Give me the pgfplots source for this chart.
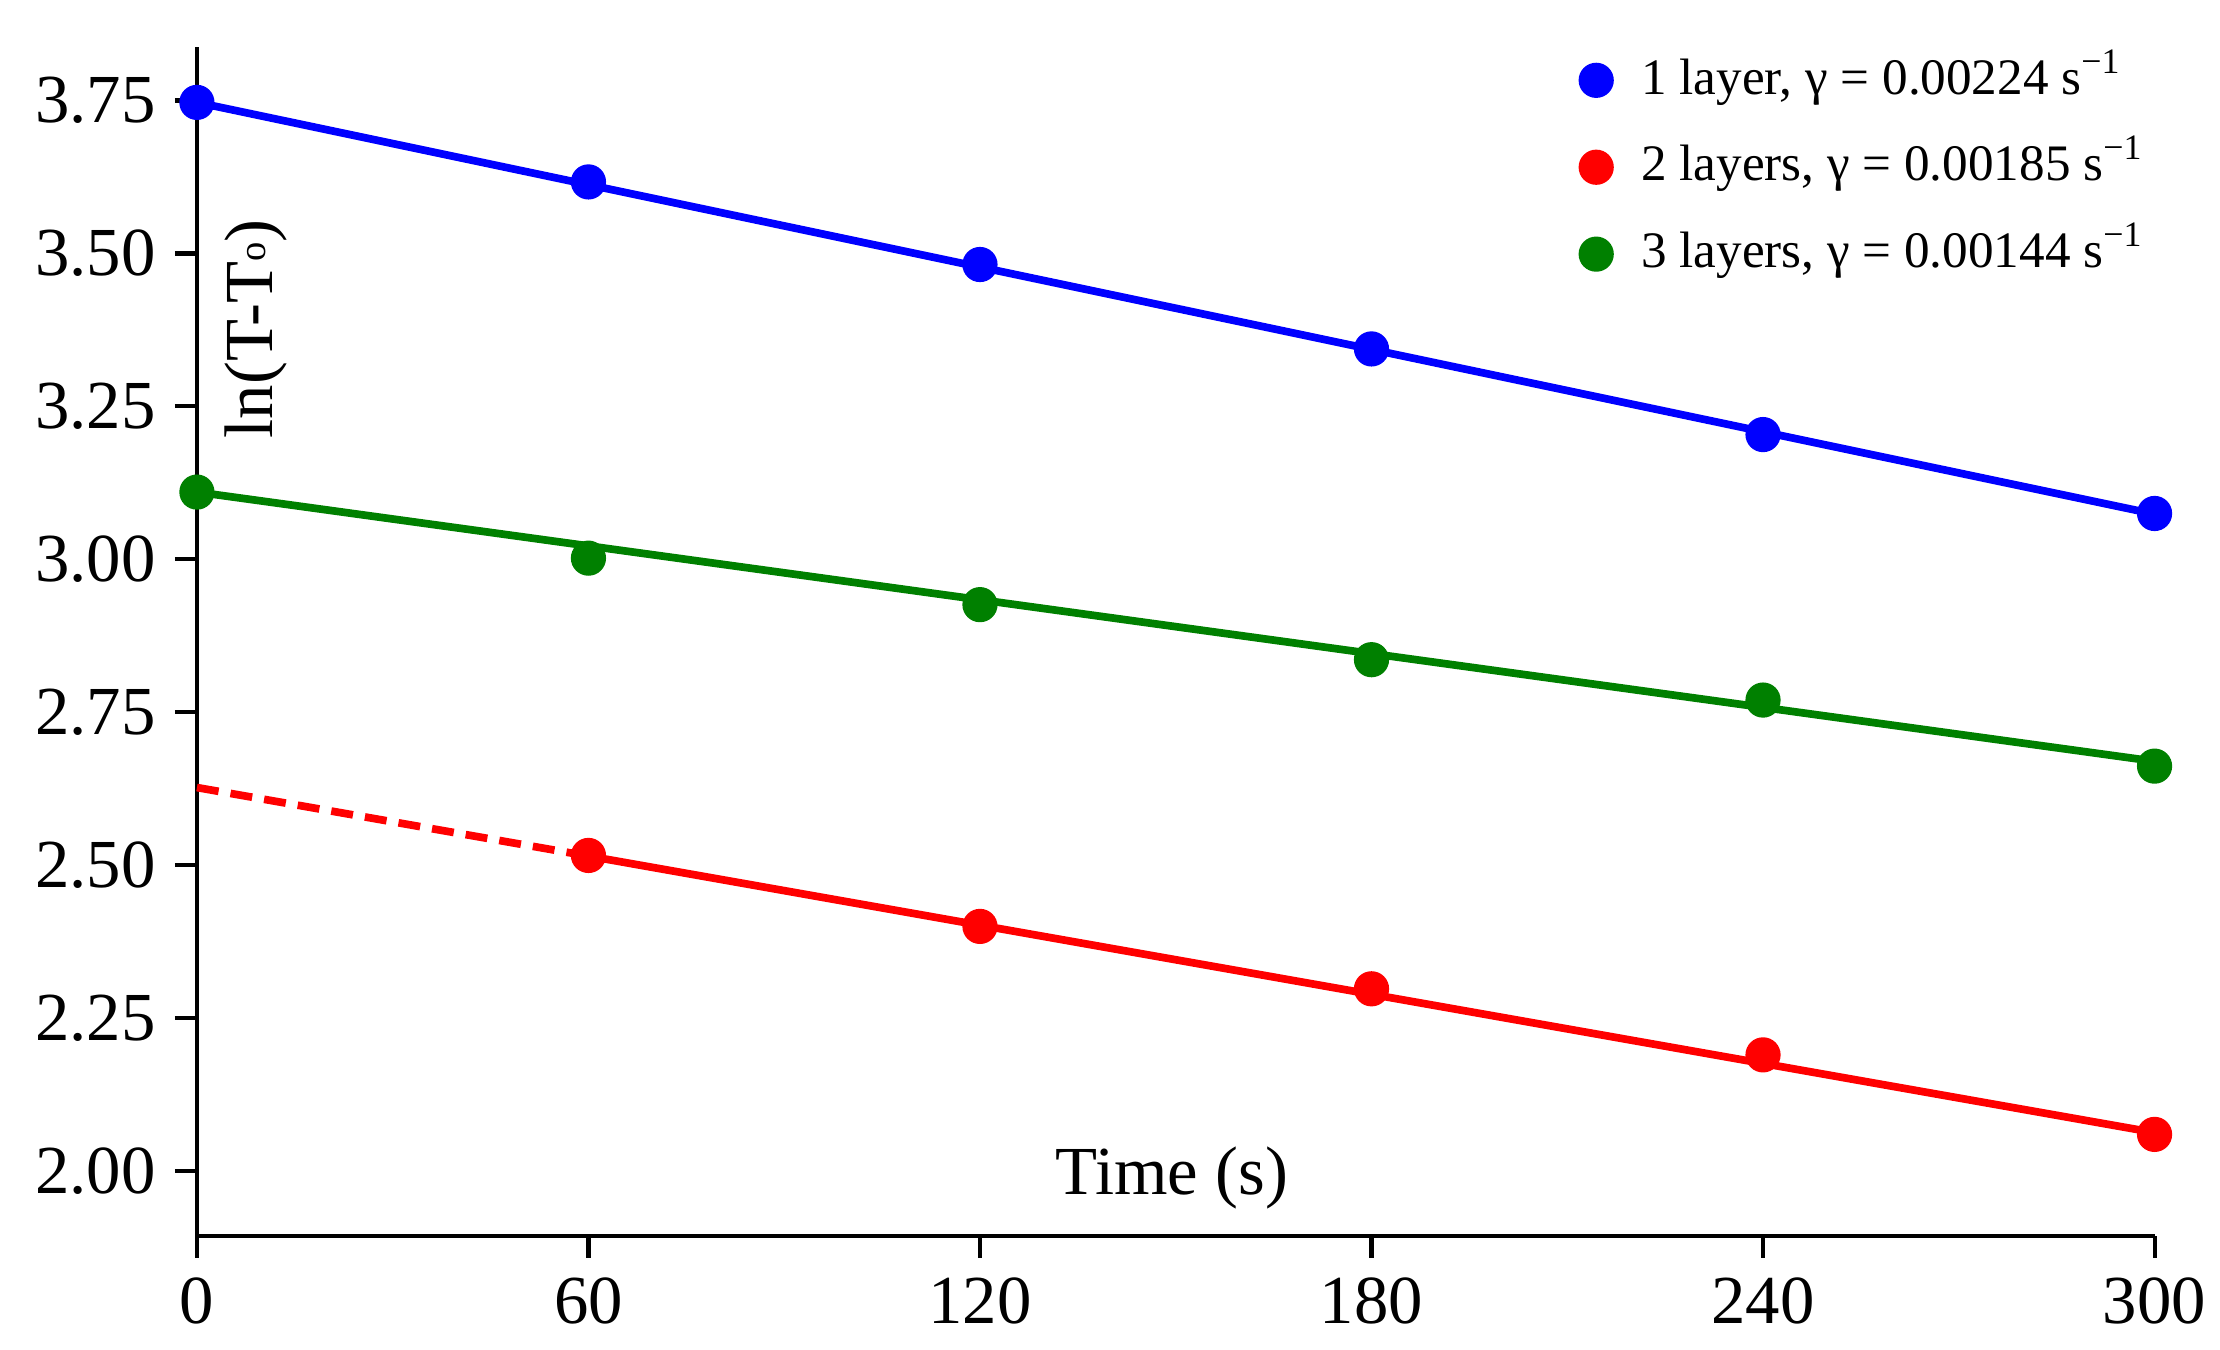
\documentclass[border=0pt]{standalone}
\usepackage{fontspec}
\setmainfont{Liberation Serif}
\usepackage{pgfplots}
\pgfplotsset{compat=1.18}
\definecolor{cblue}{RGB}{0,0,255}
\definecolor{cred}{RGB}{255,0,0}
\definecolor{cgreen}{RGB}{0,128,0}
\begin{document}
\begin{tikzpicture}
\useasboundingbox (-35.8pt,-20.7pt) rectangle (367.8pt,224.7pt);
\begin{axis}[
  at={(0,0)}, anchor=south west,
  scale only axis, width=355.9pt, height=216.2pt,
  xmin=0, xmax=300, ymin=1.894, ymax=3.838,
  axis x line*=bottom, axis y line*=left,
  axis line style={line width=0.75pt},
  tick align=outside, major tick length=4pt,
  tick style={line width=0.75pt, black},
  xtick={0,60,120,180,240,300},
  ytick={2,2.25,2.5,2.75,3,3.25,3.5,3.75},
  yticklabel style={/pgf/number format/.cd, fixed, fixed zerofill, precision=2},
  /pgf/number format/assume math mode=true,
  ticklabel style={font=\fontsize{12.5}{14}\selectfont},
  clip=false,
  legend style={at={(0.7058,0.9958)}, anchor=north west, draw=none, fill=none,
    font=\fontsize{9.3}{11}\selectfont, row sep=5.8pt, column sep=5.2pt, inner sep=0pt,
    nodes={inner sep=0pt, text height=0.75em, text depth=0.25em, anchor=west}},
  legend cell align=left,
  legend image code/.code={\draw[mark repeat=2, mark phase=2, #1] plot coordinates {(0pt,0pt) (4pt,0pt) (8pt,0pt)};},
]
% fitted lines
\addplot[forget plot, cblue, line width=1.4pt] coordinates {(0,3.747) (300,3.074)};
\addplot[forget plot, cgreen, line width=1.4pt] coordinates {(0,3.110) (300,2.670)};
\addplot[forget plot, cred, line width=1.4pt, dash pattern=on 4pt off 2.2pt] coordinates {(0,2.627) (60,2.515)};
\addplot[forget plot, cred, line width=1.4pt] coordinates {(60,2.515) (300,2.063)};
% measured points
\addplot[only marks, mark=*, mark size=3pt, cblue] coordinates {
  (0,3.747) (60,3.617) (120,3.482) (180,3.344) (240,3.204) (300,3.075)};
\addlegendentry{1 layer, γ = 0.00224 s\textsuperscript{−1}}
\addplot[only marks, mark=*, mark size=3pt, cred] coordinates {
  (60,2.516) (120,2.400) (180,2.298) (240,2.190) (300,2.060)};
\addlegendentry{2 layers, γ = 0.00185 s\textsuperscript{−1}}
\addplot[only marks, mark=*, mark size=3pt, cgreen] coordinates {
  (0,3.110) (60,3.002) (120,2.926) (180,2.836) (240,2.770) (300,2.662)};
\addlegendentry{3 layers, γ = 0.00144 s\textsuperscript{−1}}

\node[rotate=90, font=\fontsize{12.5}{14}\selectfont] at (axis cs:9,3.377)
  {ln(T-T\raisebox{0.1em}{\fontsize{7}{8}\selectfont o})};
\node[anchor=base, font=\fontsize{12.5}{14}\selectfont] at (axis cs:149.4,1.961) {Time (s)};
\end{axis}
\end{tikzpicture}
\end{document}
